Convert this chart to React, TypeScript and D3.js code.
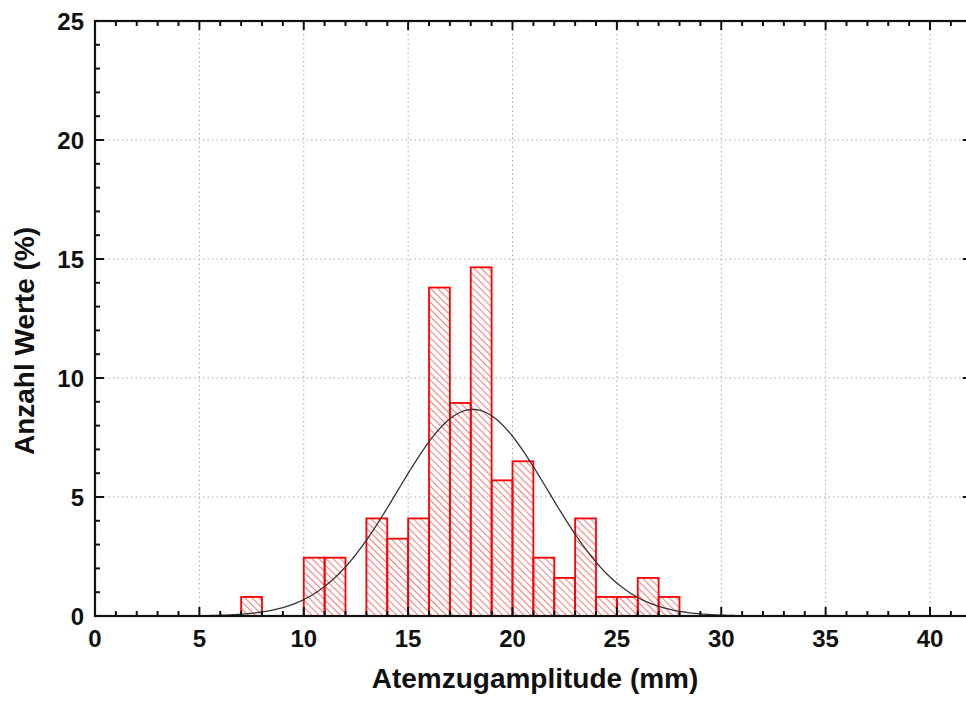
import React, { useEffect, useRef } from 'react';
import * as d3 from 'd3';

// histogram bins (lower edge, width 1 mm) and share of values in %
const binStarts = [7, 8, 9, 10, 11, 12, 13, 14, 15, 16, 17, 18, 19, 20, 21, 22, 23, 24, 25, 26, 27];
const binValues = [0.8, 0, 0, 2.45, 2.45, 0, 4.1, 3.25, 4.1, 13.8, 8.95, 14.65, 5.7, 6.5, 2.45, 1.6, 4.1, 0.8, 0.8, 1.6, 0.8];

// fitted normal curve
const fitMean = 18.1;
const fitSd = 3.6;
const fitPeak = 8.68;

const xTicks = [0, 5, 10, 15, 20, 25, 30, 35, 40];
const yTicks = [0, 5, 10, 15, 20, 25];

const width = 966;
const height = 707;
const margin = { top: 21, bottom: 91, left: 95 };

const App = () => {
  const ref = useRef<SVGSVGElement>(null);

  useEffect(() => {
    const svg = d3.select(ref.current);
    svg.selectAll('*').remove();

    const x = d3.scaleLinear().domain([0, 42]).range([margin.left, margin.left + 42 * 20.875]);
    const y = d3.scaleLinear().domain([0, 25]).range([height - margin.bottom, margin.top]);
    const x0 = x(0), x1 = x(42), y0 = y(0), y1 = y(25);

    svg.append('rect').attr('width', width).attr('height', height).attr('fill', 'white');

    const defs = svg.append('defs');
    const pat = defs
      .append('pattern')
      .attr('id', 'hatch')
      .attr('patternUnits', 'userSpaceOnUse')
      .attr('width', 5)
      .attr('height', 5)
      .attr('patternTransform', 'rotate(-45)');
    pat.append('line').attr('x1', 0).attr('y1', 0).attr('x2', 0).attr('y2', 5).attr('stroke', '#ff3030').attr('stroke-width', 1.3);

    // grid
    const grid = svg.append('g').attr('stroke', '#aaa').attr('stroke-width', 1).attr('stroke-dasharray', '1.5,3');
    xTicks.filter((t) => t > 0).forEach((t) => {
      grid.append('line').attr('x1', x(t)).attr('x2', x(t)).attr('y1', y0).attr('y2', y1);
    });
    yTicks.filter((t) => t > 0 && t < 25).forEach((t) => {
      grid.append('line').attr('x1', x0).attr('x2', x1).attr('y1', y(t)).attr('y2', y(t));
    });

    // bars
    const bars = svg.append('g');
    binStarts.forEach((b, i) => {
      const v = binValues[i];
      if (v <= 0) return;
      bars
        .append('rect')
        .attr('x', x(b))
        .attr('y', y(v))
        .attr('width', x(b + 1) - x(b))
        .attr('height', y0 - y(v))
        .attr('fill', 'url(#hatch)')
        .attr('stroke', '#ff0000')
        .attr('stroke-width', 1.8);
    });

    // normal fit
    const curveXs = d3.range(4, 32.01, 0.1);
    const line = d3
      .line<number>()
      .x((d) => x(d))
      .y((d) => y(fitPeak * Math.exp(-((d - fitMean) ** 2) / (2 * fitSd * fitSd))));
    svg.append('path').datum(curveXs).attr('d', line).attr('fill', 'none').attr('stroke', '#333').attr('stroke-width', 1.3);

    // frame
    svg.append('rect').attr('x', x0).attr('y', y1).attr('width', x1 - x0).attr('height', y0 - y1).attr('fill', 'none').attr('stroke', '#111').attr('stroke-width', 2.2);

    // ticks
    const tk = svg.append('g').attr('stroke', '#111').attr('stroke-width', 2);
    d3.range(0, 43).forEach((t) => {
      const len = t % 5 === 0 ? 9 : 5;
      tk.append('line').attr('x1', x(t)).attr('x2', x(t)).attr('y1', y0).attr('y2', y0 - len);
      tk.append('line').attr('x1', x(t)).attr('x2', x(t)).attr('y1', y1).attr('y2', y1 + len);
    });
    d3.range(0, 26).forEach((t) => {
      const len = t % 5 === 0 ? 9 : 5;
      tk.append('line').attr('x1', x0).attr('x2', x0 + len).attr('y1', y(t)).attr('y2', y(t));
      tk.append('line').attr('x1', x1).attr('x2', x1 - len).attr('y1', y(t)).attr('y2', y(t));
    });

    const font = 'Liberation Sans, Arial, sans-serif';
    const lab = svg.append('g').attr('font-family', font).attr('font-weight', 'bold').attr('fill', '#111');
    xTicks.forEach((t) => {
      lab.append('text').attr('x', x(t)).attr('y', 647).attr('font-size', 24).attr('text-anchor', 'middle').text(t);
    });
    yTicks.forEach((t) => {
      lab.append('text').attr('x', x0 - 11).attr('y', y(t) + 9).attr('font-size', 24).attr('text-anchor', 'end').text(t);
    });

    lab.append('text').attr('x', 535).attr('y', 688).attr('font-size', 28).attr('text-anchor', 'middle').text('Atemzugamplitude (mm)');
    lab
      .append('text')
      .attr('transform', 'translate(34,341) rotate(-90)')
      .attr('font-size', 28)
      .attr('text-anchor', 'middle')
      .text('Anzahl Werte (%)');
  }, []);

  return (
    <svg ref={ref} width={width} height={height} style={{ position: 'absolute', left: 0, top: 0, display: 'block' }} />
  );
};

export default App;
